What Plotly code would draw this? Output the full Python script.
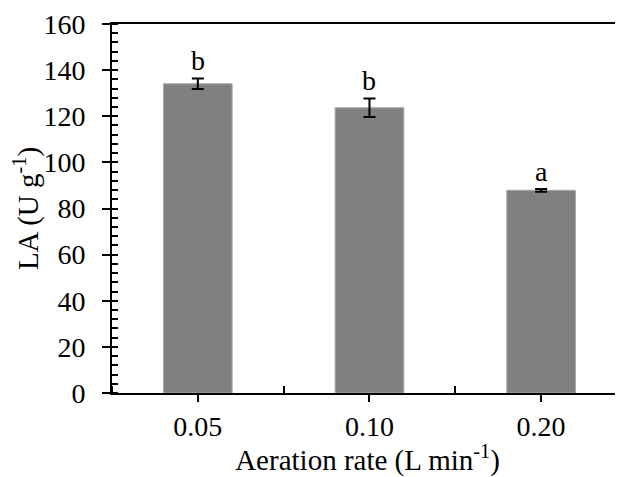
import plotly.graph_objects as go

categories = ["0.05", "0.10", "0.20"]
la_values = [134.1, 123.7, 87.9]
la_errors = [2.3, 4.0, 0.6]
letters = ["b", "b", "a"]
y_ticks = [0, 20, 40, 60, 80, 100, 120, 140, 160]

xpos = list(range(len(categories)))
font = "Liberation Serif, Times New Roman, serif"
fs = 28

fig = go.Figure()
fig.add_trace(go.Bar(
    x=xpos, y=la_values, width=0.4,
    marker=dict(color="#808080", line=dict(color="#a8a8a8", width=1)),
    error_y=dict(type="data", array=la_errors, visible=True,
                 color="black", thickness=2, width=6),
    showlegend=False,
))

for xi, v, e, t in zip(xpos, la_values, la_errors, letters):
    fig.add_annotation(x=xi, y=v + e, text=t, showarrow=False,
                       yanchor="bottom", yshift=0,
                       font=dict(family=font, size=fs, color="black"))

fig.update_layout(
    width=615, height=469,
    margin=dict(l=104, r=0, t=16, b=84),
    plot_bgcolor="white", paper_bgcolor="white",
    font=dict(family=font, size=fs, color="black"),
)
fig.update_xaxes(
    range=[-0.5, 2.477], tickmode="array", tickvals=xpos, ticktext=categories,
    showgrid=False, zeroline=False,
    showline=True, linecolor="black", linewidth=2, mirror=True,
    ticks="outside", ticklen=7, tickwidth=2, tickcolor="black",
    minor=dict(tick0=0.5, dtick=1, ticks="inside", ticklen=7, tickwidth=2,
               tickcolor="black", showgrid=False),
    title=dict(text="Aeration rate (L min<sup>-1</sup>)", standoff=0,
               font=dict(family=font, size=29)),
    tickfont=dict(family=font, size=fs),
)
fig.update_yaxes(
    range=[0, 160], tickmode="array", tickvals=y_ticks,
    ticktext=[str(v) for v in y_ticks],
    showgrid=False, zeroline=False,
    showline=True, linecolor="black", linewidth=2,
    ticks="outside", ticklen=8, tickwidth=2, tickcolor="black",
    ticklabelstandoff=11,
    minor=dict(dtick=4, ticks="inside", ticklen=6, tickwidth=1.5,
               tickcolor="black", showgrid=False),
    title=dict(text="LA (U g<sup>-1</sup>)", standoff=2,
               font=dict(family=font, size=29)),
    tickfont=dict(family=font, size=fs),
)

fig.write_html("out.html")
